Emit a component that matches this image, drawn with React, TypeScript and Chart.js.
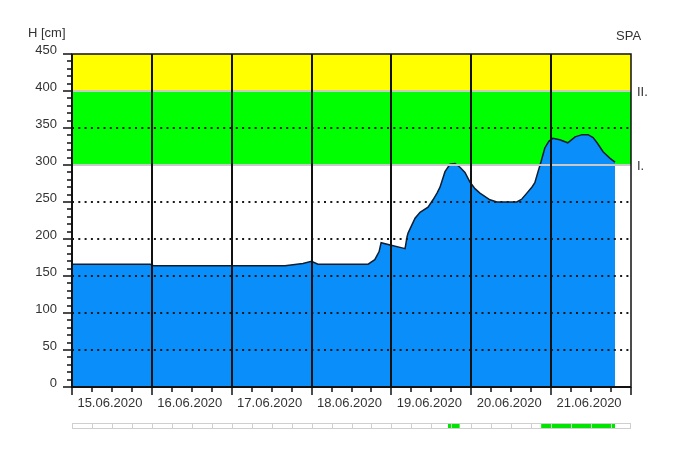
import React, { useEffect, useRef } from "react";
import { Chart, registerables } from "chart.js";

Chart.register(...registerables);

// ---- data ----
const dayLabels = ["15.06.2020", "16.06.2020", "17.06.2020", "18.06.2020", "19.06.2020", "20.06.2020", "21.06.2020"];
const hours = [0, 23.5, 24.5, 64, 69.4, 72, 73.9, 89, 91, 92.3, 92.9, 95.6, 99.2, 100.1, 100.7, 101, 103.1, 104.6, 107, 108.5,
  109.7, 110.6, 112.1, 113.6, 115.1, 116.6, 118.1, 119.6, 121.1, 122.6, 125.6, 127.7, 133.7, 135.2, 136.7, 138.2, 139.1, 140, 141, 142.1,
  143.3, 144.5, 146.6, 149, 151.2, 153.3, 155.1, 156.6, 157.8, 159.6, 161.7, 163.2];
const levels = [166, 166, 164, 164, 167, 170, 166, 166, 172, 183, 195, 192, 188, 187, 203, 208, 228, 236, 243, 253,
  262, 270, 291, 301, 302, 297, 290, 277, 268, 262, 253, 250, 250, 254, 262, 270, 276, 290, 305, 323,
  332, 336, 334, 330, 338, 341, 341, 337, 330, 318, 309, 304];
const yTickLabels = [0, 50, 100, 150, 200, 250, 300, 350, 400, 450];
const dottedGrid = [50, 100, 150, 200, 250, 350];
const levelI = 300;
const levelII = 400;
const levelNames = ["I.", "II."];
const flagIntervals = [[113, 116.5], [141, 163.2]];
const yTitle = "H [cm]";
const stationName = "SPA";

const FONT = '13px "Liberation Sans", Arial, sans-serif';

const overlayPlugin = {
  id: "overlay",
  beforeDatasetsDraw(chart: any) {
    const { ctx, chartArea: a, scales } = chart;
    const y = scales.y;
    ctx.save();
    ctx.fillStyle = "#ffff00";
    ctx.fillRect(a.left, y.getPixelForValue(450), a.right - a.left, y.getPixelForValue(levelII) - y.getPixelForValue(450));
    ctx.fillStyle = "#00ff00";
    ctx.fillRect(a.left, y.getPixelForValue(levelII), a.right - a.left, y.getPixelForValue(levelI) - y.getPixelForValue(levelII));
    ctx.restore();
  },
  afterDatasetsDraw(chart: any) {
    const { ctx, chartArea: a, scales } = chart;
    const x = scales.x;
    const y = scales.y;
    ctx.save();
    // dotted grid
    ctx.strokeStyle = "#1a1a1a";
    ctx.lineWidth = 2;
    ctx.setLineDash([2, 4.3]);
    for (const v of dottedGrid) {
      const py = Math.round(y.getPixelForValue(v));
      ctx.beginPath();
      ctx.moveTo(a.left, py);
      ctx.lineTo(a.right, py);
      ctx.stroke();
    }
    ctx.setLineDash([]);
    // threshold lines
    ctx.strokeStyle = "#c8c8c8";
    ctx.lineWidth = 2;
    for (const v of [levelI, levelII]) {
      const py = Math.round(y.getPixelForValue(v));
      ctx.beginPath();
      ctx.moveTo(a.left, py);
      ctx.lineTo(a.right, py);
      ctx.stroke();
    }
    // day lines
    ctx.strokeStyle = "#111";
    ctx.lineWidth = 2;
    for (let d = 1; d < dayLabels.length; d++) {
      const px = Math.round(x.getPixelForValue(d * 24));
      ctx.beginPath();
      ctx.moveTo(px, a.top);
      ctx.lineTo(px, a.bottom);
      ctx.stroke();
    }
    // border
    ctx.lineWidth = 1.5;
    ctx.strokeStyle = "#111";
    ctx.strokeRect(a.left, a.top, a.right - a.left, a.bottom - a.top);
    ctx.lineWidth = 2;
    ctx.beginPath();
    ctx.moveTo(a.left, a.top);
    ctx.lineTo(a.left, a.bottom);
    ctx.lineTo(a.right, a.bottom);
    ctx.stroke();
    // y ticks
    ctx.lineWidth = 1.5;
    for (let v = 0; v <= 450; v += 10) {
      const py = Math.round(y.getPixelForValue(v));
      const len = v % 50 === 0 ? 9 : 5;
      ctx.beginPath();
      ctx.moveTo(a.left - len, py);
      ctx.lineTo(a.left, py);
      ctx.stroke();
    }
    // x ticks
    for (let h = 0; h <= 168; h += 6) {
      const px = Math.round(x.getPixelForValue(h));
      const len = h % 24 === 0 ? 8 : 5;
      ctx.beginPath();
      ctx.moveTo(px, a.bottom);
      ctx.lineTo(px, a.bottom + len);
      ctx.stroke();
    }
    // flag strip
    const sTop = 423.5;
    const sH = 5;
    ctx.fillStyle = "#ffffff";
    ctx.fillRect(a.left, sTop, a.right - a.left, sH);
    ctx.fillStyle = "#00e600";
    for (const [s, e] of flagIntervals) {
      const x0 = x.getPixelForValue(s);
      const x1 = x.getPixelForValue(e);
      ctx.fillRect(x0, sTop, x1 - x0, sH);
    }
    ctx.strokeStyle = "#cfcfcf";
    ctx.lineWidth = 1;
    ctx.strokeRect(a.left + 0.5, sTop, a.right - a.left - 1, sH);
    for (let h = 6; h < 168; h += 6) {
      const px = Math.round(x.getPixelForValue(h)) + 0.5;
      ctx.beginPath();
      ctx.moveTo(px, sTop);
      ctx.lineTo(px, sTop + sH);
      ctx.stroke();
    }
    // texts
    ctx.font = FONT;
    ctx.fillStyle = "#333";
    ctx.textAlign = "left";
    ctx.textBaseline = "alphabetic";
    ctx.fillText(yTitle, 28, 37);
    ctx.fillText(stationName, 616, 40);
    ctx.fillText(levelNames[1], a.right + 6, Math.round(y.getPixelForValue(levelII)) + 5);
    ctx.fillText(levelNames[0], a.right + 6, Math.round(y.getPixelForValue(levelI)) + 5);
    ctx.restore();
  },
};

export default function App() {
  const ref = useRef<HTMLCanvasElement>(null);
  useEffect(() => {
    if (!ref.current) return;
    const chart = new Chart(ref.current, {
      type: "line",
      data: {
        datasets: [
          {
            data: hours.map((h, i) => ({ x: h, y: levels[i] })),
            borderColor: "#0f1e33",
            borderWidth: 1.5,
            backgroundColor: "rgb(10,142,250)",
            fill: "origin",
            pointRadius: 0,
            tension: 0,
          },
        ],
      },
      options: {
        animation: false,
        responsive: false,
        devicePixelRatio: 1,
        layout: { padding: { top: 54, right: 51, left: 0, bottom: 0 } },
        plugins: { legend: { display: false }, tooltip: { enabled: false }, title: { display: false } },
        scales: {
          x: {
            type: "linear",
            min: 0,
            max: 168,
            grid: { display: false, drawTicks: false },
            border: { display: false },
            afterBuildTicks: (s: any) => {
              s.ticks = dayLabels.map((_, i) => ({ value: i * 24 + 12 }));
            },
            afterFit: (s: any) => {
              s.height = 65;
            },
            ticks: {
              autoSkip: false,
              maxRotation: 0,
              padding: 9,
              labelOffset: -2,
              color: "#333",
              font: { family: '"Liberation Sans", Arial, sans-serif', size: 13 },
              callback: (_v: any, i: number) => dayLabels[i],
            },
          },
          y: {
            type: "linear",
            min: 0,
            max: 450,
            grid: { display: false, drawTicks: false },
            border: { display: false },
            afterBuildTicks: (s: any) => {
              s.ticks = yTickLabels.map((v) => ({ value: v }));
            },
            afterFit: (s: any) => {
              s.width = 72;
            },
            ticks: {
              autoSkip: false,
              padding: 15,
              labelOffset: -4,
              color: "#333",
              font: { family: '"Liberation Sans", Arial, sans-serif', size: 13 },
              callback: (v: any) => String(v),
            },
          },
        },
      },
      plugins: [overlayPlugin],
    });
    return () => chart.destroy();
  }, []);
  return (
    <div style={{ position: "fixed", left: 0, top: 0, width: 682, height: 452, background: "#fff" }}>
      <canvas ref={ref} width={682} height={452} style={{ display: "block" }} />
    </div>
  );
}
